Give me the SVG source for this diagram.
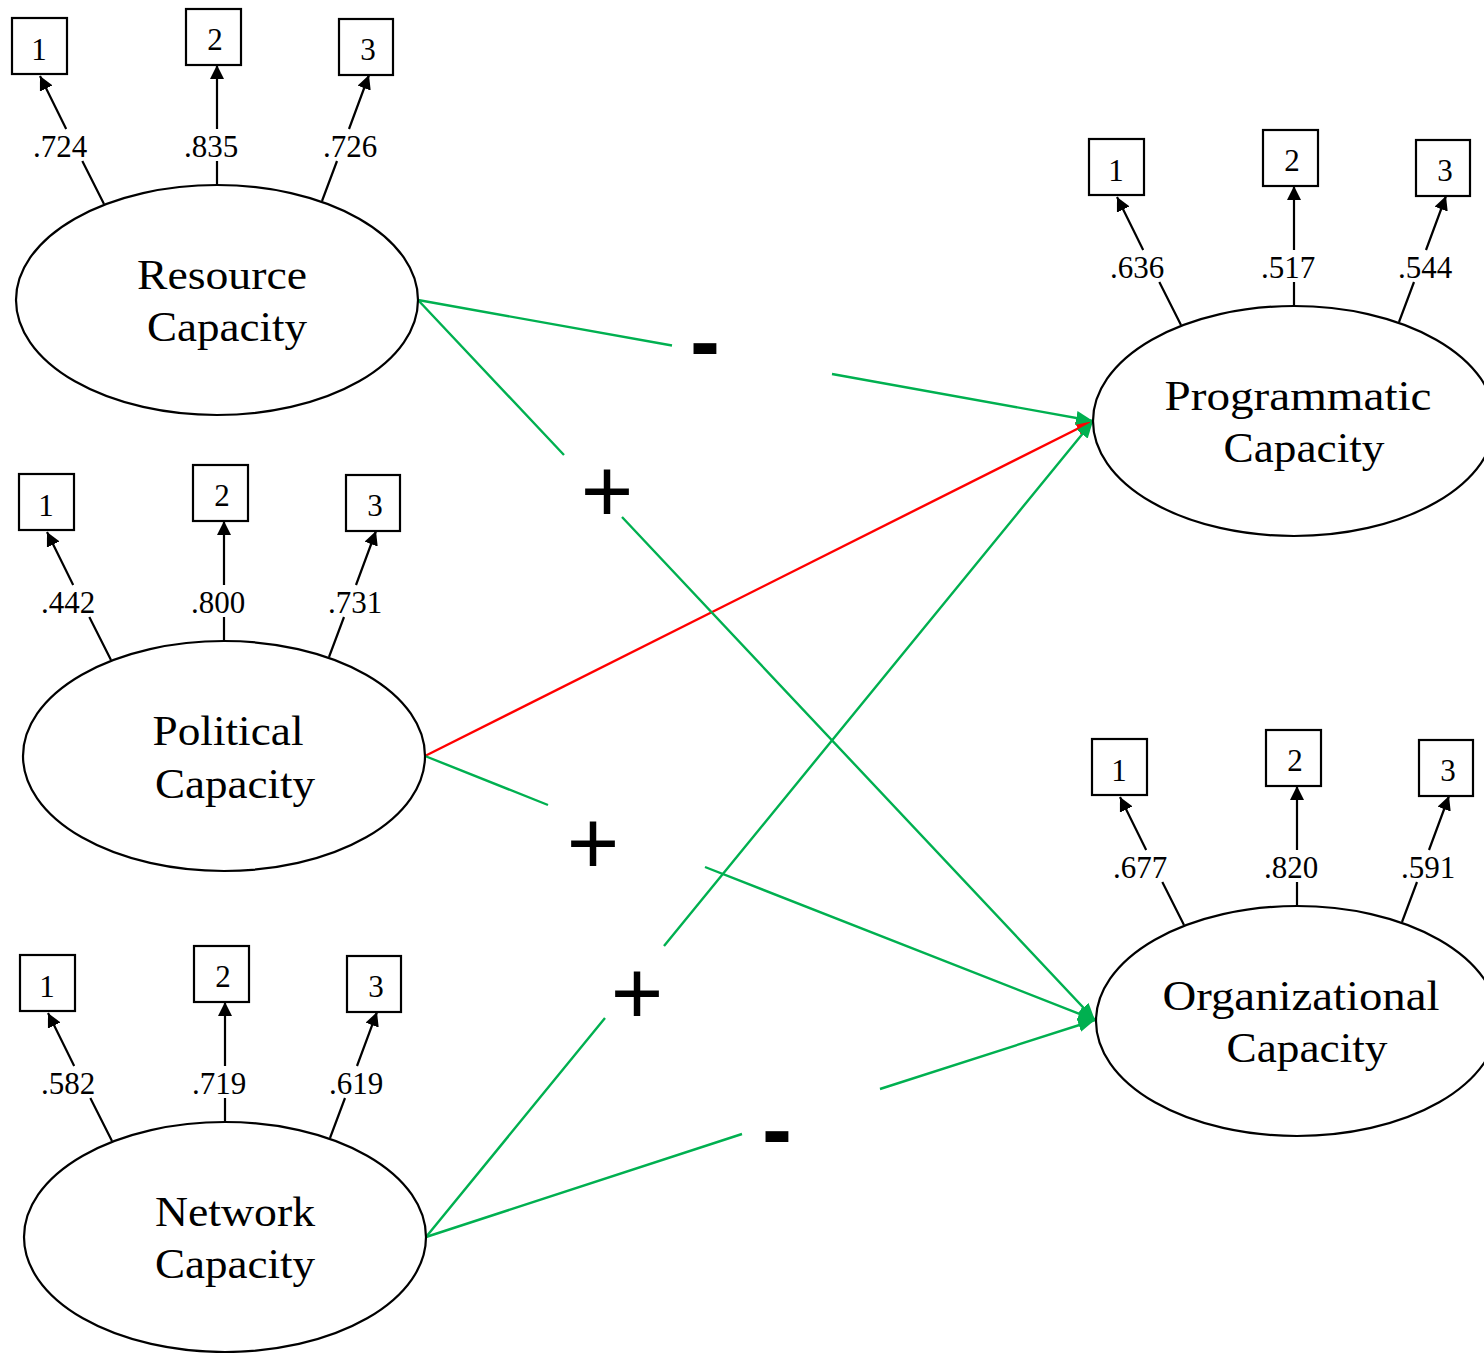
<svg xmlns="http://www.w3.org/2000/svg" width="1484" height="1353" viewBox="0 0 1484 1353">
<style>
.lat{fill:#fff;stroke:#000;stroke-width:2.2}
.box{fill:#fff;stroke:#000;stroke-width:2.2}
.ind{fill:none;stroke:#000;stroke-width:2.2;marker-end:url(#ah)}
.num{font-family:"Liberation Serif",serif;font-size:31px;text-anchor:middle;fill:#000}
.ld{font-family:"Liberation Serif",serif;font-size:31px;text-anchor:middle;fill:#000}
.name{font-family:"Liberation Serif",serif;font-size:42px;text-anchor:middle;fill:#000}
.g{fill:none;stroke:#00B050;stroke-width:2.4;marker-end:url(#ag)}
.r{fill:none;stroke:#FF0000;stroke-width:2.4;marker-end:url(#ar)}
.sign{font-family:"Liberation Sans",Arial,sans-serif;font-size:90px;text-anchor:middle;fill:#000}
.minus{font-weight:bold}
</style>
<defs>
<marker id="ah" markerUnits="userSpaceOnUse" markerWidth="14" markerHeight="14" refX="14" refY="7" orient="auto"><path d="M0,0 L14,7 L0,14 z" fill="#000"/></marker>
<marker id="ag" markerUnits="userSpaceOnUse" markerWidth="17" markerHeight="14" refX="17" refY="7" orient="auto"><path d="M0,0 L17,7 L0,14 z" fill="#00B050"/></marker>
<marker id="ar" markerUnits="userSpaceOnUse" markerWidth="17" markerHeight="14" refX="17" refY="7" orient="auto"><path d="M0,0 L17,7 L0,14 z" fill="#FF0000"/></marker>
</defs>
<rect width="1484" height="1353" fill="#fff"/>

<g id="connectors">
<path class="r" d="M425,756 L1093,421"/>
<path class="g" d="M418,300 L672,345.5 M832,374 L1093,421"/>
<path class="g" d="M418,300 L564,455 M622,517 L1095,1020"/>
<path class="g" d="M425,756 L548,805 M705,867 L1095,1020"/>
<path class="g" d="M426,1237 L605,1018 M664,946 L1093,421"/>
<path class="g" d="M426,1237 L742,1134 M880,1089 L1095,1020"/>
</g>

<g id="signs">
<text class="sign minus" x="705" y="372">-</text>
<text class="sign" x="607" y="522">+</text>
<text class="sign" x="593" y="874">+</text>
<text class="sign" x="637" y="1024">+</text>
<text class="sign minus" x="777" y="1160">-</text>
</g>

<g id="resource" transform="translate(217,300)">
<ellipse class="lat" cx="0" cy="0" rx="201" ry="115"/>
<text class="name" x="5" y="-11" textLength="170" lengthAdjust="spacingAndGlyphs">Resource</text>
<text class="name" x="10" y="41" textLength="160" lengthAdjust="spacingAndGlyphs">Capacity</text>
<rect class="box" x="-205" y="-282" width="55" height="56"/>
<rect class="box" x="-31" y="-291" width="55" height="56"/>
<rect class="box" x="122" y="-281" width="54" height="56"/>
<text class="num" x="-178" y="-240">1</text>
<text class="num" x="-2" y="-250">2</text>
<text class="num" x="151" y="-240">3</text>
<path class="ind" d="M-113,-96 L-134.7,-139 M-150.8,-171 L-177,-224"/>
<path class="ind" d="M0,-115 L0,-139 M0,-171 L0,-235"/>
<path class="ind" d="M105,-99 L120,-139 M132,-171 L152,-225"/>
<text class="ld" x="-157" y="-143">.724</text>
<text class="ld" x="-6" y="-143">.835</text>
<text class="ld" x="133" y="-143">.726</text>
</g>

<g id="political" transform="translate(224,756)">
<ellipse class="lat" cx="0" cy="0" rx="201" ry="115"/>
<text class="name" x="4" y="-11" textLength="151" lengthAdjust="spacingAndGlyphs">Political</text>
<text class="name" x="11" y="42" textLength="160" lengthAdjust="spacingAndGlyphs">Capacity</text>
<rect class="box" x="-205" y="-282" width="55" height="56"/>
<rect class="box" x="-31" y="-291" width="55" height="56"/>
<rect class="box" x="122" y="-281" width="54" height="56"/>
<text class="num" x="-178" y="-240">1</text>
<text class="num" x="-2" y="-250">2</text>
<text class="num" x="151" y="-240">3</text>
<path class="ind" d="M-113,-96 L-134.7,-139 M-150.8,-171 L-177,-224"/>
<path class="ind" d="M0,-115 L0,-139 M0,-171 L0,-235"/>
<path class="ind" d="M105,-99 L120,-139 M132,-171 L152,-225"/>
<text class="ld" x="-156" y="-143">.442</text>
<text class="ld" x="-6" y="-143">.800</text>
<text class="ld" x="131" y="-143">.731</text>
</g>

<g id="network" transform="translate(225,1237)">
<ellipse class="lat" cx="0" cy="0" rx="201" ry="115"/>
<text class="name" x="10" y="-11" textLength="160" lengthAdjust="spacingAndGlyphs">Network</text>
<text class="name" x="10" y="41" textLength="160" lengthAdjust="spacingAndGlyphs">Capacity</text>
<rect class="box" x="-205" y="-282" width="55" height="56"/>
<rect class="box" x="-31" y="-291" width="55" height="56"/>
<rect class="box" x="122" y="-281" width="54" height="56"/>
<text class="num" x="-178" y="-240">1</text>
<text class="num" x="-2" y="-250">2</text>
<text class="num" x="151" y="-240">3</text>
<path class="ind" d="M-113,-96 L-134.7,-139 M-150.8,-171 L-177,-224"/>
<path class="ind" d="M0,-115 L0,-139 M0,-171 L0,-235"/>
<path class="ind" d="M105,-99 L120,-139 M132,-171 L152,-225"/>
<text class="ld" x="-157" y="-143">.582</text>
<text class="ld" x="-6" y="-143">.719</text>
<text class="ld" x="131" y="-143">.619</text>
</g>

<g id="programmatic" transform="translate(1294,421)">
<ellipse class="lat" cx="0" cy="0" rx="201" ry="115"/>
<text class="name" x="4" y="-11" textLength="267" lengthAdjust="spacingAndGlyphs">Programmatic</text>
<text class="name" x="10" y="41" textLength="161" lengthAdjust="spacingAndGlyphs">Capacity</text>
<rect class="box" x="-205" y="-282" width="55" height="56"/>
<rect class="box" x="-31" y="-291" width="55" height="56"/>
<rect class="box" x="122" y="-281" width="54" height="56"/>
<text class="num" x="-178" y="-240">1</text>
<text class="num" x="-2" y="-250">2</text>
<text class="num" x="151" y="-240">3</text>
<path class="ind" d="M-113,-96 L-134.7,-139 M-150.8,-171 L-177,-224"/>
<path class="ind" d="M0,-115 L0,-139 M0,-171 L0,-235"/>
<path class="ind" d="M105,-99 L120,-139 M132,-171 L152,-225"/>
<text class="ld" x="-157" y="-143">.636</text>
<text class="ld" x="-6" y="-143">.517</text>
<text class="ld" x="131" y="-143">.544</text>
</g>

<g id="organizational" transform="translate(1297,1021)">
<ellipse class="lat" cx="0" cy="0" rx="201" ry="115"/>
<text class="name" x="4" y="-11" textLength="277" lengthAdjust="spacingAndGlyphs">Organizational</text>
<text class="name" x="10" y="41" textLength="161" lengthAdjust="spacingAndGlyphs">Capacity</text>
<rect class="box" x="-205" y="-282" width="55" height="56"/>
<rect class="box" x="-31" y="-291" width="55" height="56"/>
<rect class="box" x="122" y="-281" width="54" height="56"/>
<text class="num" x="-178" y="-240">1</text>
<text class="num" x="-2" y="-250">2</text>
<text class="num" x="151" y="-240">3</text>
<path class="ind" d="M-113,-96 L-134.7,-139 M-150.8,-171 L-177,-224"/>
<path class="ind" d="M0,-115 L0,-139 M0,-171 L0,-235"/>
<path class="ind" d="M105,-99 L120,-139 M132,-171 L152,-225"/>
<text class="ld" x="-157" y="-143">.677</text>
<text class="ld" x="-6" y="-143">.820</text>
<text class="ld" x="131" y="-143">.591</text>
</g>
</svg>
